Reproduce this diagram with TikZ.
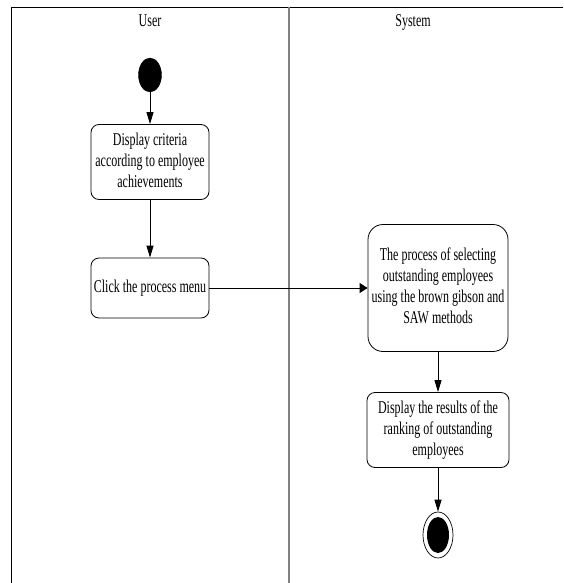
\documentclass[tikz,border=0pt]{standalone}
\usepackage{fontspec}
\usepackage{graphicx}
\setmainfont{Liberation Serif}
\usetikzlibrary{arrows.meta,positioning,shapes.geometric}
% tall, narrow lettering used for all labels
\newcommand\tallstack[1]{\scalebox{1}[1.5]{\begin{tabular}{@{}c@{}}#1\end{tabular}}}
\begin{document}
\begin{tikzpicture}[x=1pt,y=-1pt,
  actbox/.style={draw,thick,rounded corners=8pt,align=center,font=\fontsize{12}{14}\selectfont,inner sep=2pt},
  flowv/.style={draw,line width=0.9pt,-{Triangle[length=12pt,width=7pt]}},
  flowh/.style={draw,line width=0.9pt,-{Triangle[length=8pt,width=10pt]}},
  lanehead/.style={font=\fontsize{12}{14}\selectfont}]
\useasboundingbox (0,0) rectangle (563,583);
% swimlane frame
\draw[line width=0.8pt] (11,583) -- (11,7) -- (563,7);
\draw[line width=1.6pt,gray] (289,7) -- (289,583);
\node[lanehead] (huser) at (150,22) {\tallstack{User}};
\node[lanehead] (hsys) at (413,22) {\tallstack{System}};
% user lane
\node[draw,fill=black,ellipse,minimum width=23pt,minimum height=34pt,inner sep=0pt] (start) at (150,75) {};
\node[actbox,minimum width=118pt,minimum height=75pt] (crit) at (150,162)
  {\tallstack{Display criteria\\according to employee\\achievements}};
\node[actbox,minimum width=118pt,minimum height=60pt] (click) at (150,288)
  {\tallstack{Click the process menu}};
% system lane
\node[actbox,rounded corners=15pt,minimum width=140pt,minimum height=127pt] (proc) at (438,288)
  {\tallstack{The process of selecting\\outstanding employees\\using the brown gibson and\\SAW methods}};
\node[actbox,minimum width=142pt,minimum height=75pt] (res) at (438,430)
  {\tallstack{Display the results of the\\ranking of outstanding\\employees}};
\node[draw,line width=0.7pt,ellipse,minimum width=30pt,minimum height=46pt,inner sep=0pt] (finish) at (438,535) {};
\node[fill=black,ellipse,minimum width=22pt,minimum height=36pt,inner sep=0pt] (finishdot) at (finish) {};
% transitions
\draw[flowv] (start) -- (crit);
\draw[flowv] (crit) -- (click);
\draw[flowh] (click) -- (proc);
\draw[flowv] (proc) -- (res);
\draw[flowv] (res) -- (finish);
\end{tikzpicture}
\end{document}
